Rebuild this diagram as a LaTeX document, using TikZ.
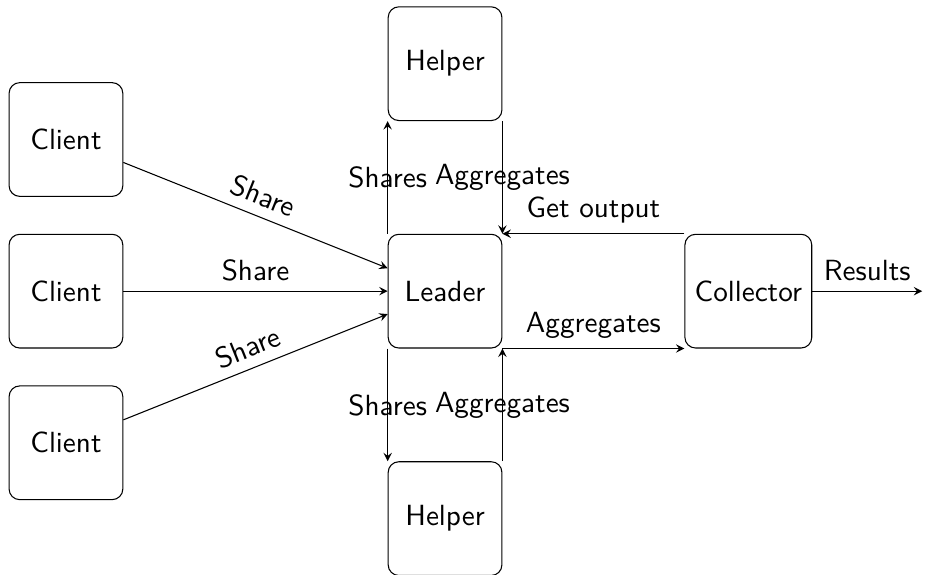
\documentclass[11pt,tikz,border=0pt]{standalone}
\usetikzlibrary{arrows}
\begin{document}
\begin{tikzpicture}[>=stealth, font=\sffamily]
	\tikzset{party/.style={draw, rounded corners, minimum width=1.5cm, minimum height=1.5cm}}
	\useasboundingbox (-5.87,-3.74) rectangle (6.33,3.84);
	\node[party] (client1) at (-5, 2) {Client};
	\node[party] (client2) at (-5, 0) {Client};
	\node[party] (client3) at (-5, -2) {Client};
	\node[party] (leader) at (0, 0) {Leader};
	\node[party] (helper1) at (0, 3) {Helper};
	\node[party] (helper2) at (0, -3) {Helper};
	\node[party] (collector) at (4, 0) {Collector};
	\coordinate (results) at ([xshift=1.45cm]collector.east);
	\draw[->] (client1) -- node[above, sloped] {Share} (leader);
	\draw[->] (client2) -- node[above] {Share} (leader);
	\draw[->] (client3) -- node[above, sloped] {Share} (leader);
	\draw[->] (leader.north west) -- node {Shares} (helper1.south west);
	\draw[->] (helper1.south east) -- node {Aggregates} (leader.north east);
	\draw[->] (leader.south west) -- node {Shares} (helper2.north west);
	\draw[->] (helper2.north east) -- node {Aggregates} (leader.south east);
	\draw[->] (collector.north west) -- node[above] {Get output} (leader.north east);
	\draw[->] (leader.south east) -- node[above] {Aggregates} (collector.south west);
	\draw[->] (collector.east) -- node[above] {Results} (results);
\end{tikzpicture}
\end{document}
